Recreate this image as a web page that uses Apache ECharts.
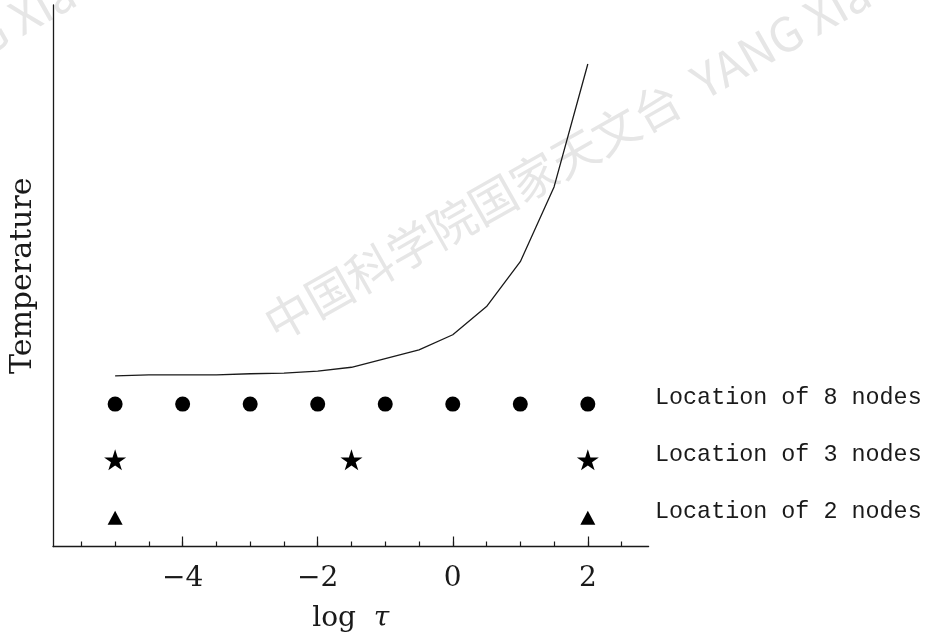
<!DOCTYPE html>
<html>
<head>
<meta charset="utf-8">
<script src="https://cdn.jsdelivr.net/npm/echarts@6/dist/echarts.min.js"></script>
<style>
  html, body { margin: 0; padding: 0; background: #fff; }
  #chart { width: 928px; height: 639px; }
</style>
</head>
<body>
<div id="chart"></div>
<script>
// ---- data ----
const logTau = [-5, -4.5, -4, -3.5, -3, -2.5, -2, -1.5, -1, -0.5, 0, 0.5, 1, 1.5, 2];
const temperature = [31.5, 31.7, 31.7, 31.7, 31.9, 32.0, 32.4, 33.1, 34.7, 36.3, 39.1, 44.3, 52.6, 66.4, 89.1];
const nodes8 = [-5, -4, -3, -2, -1, 0, 1, 2];
const nodes3 = [-5, -1.5, 2];
const nodes2 = [-5, 2];
const row8 = 26.3;
const row3 = 16.0;
const row2 = 5.3;
const majorTicks = [-4, -2, 0, 2];
const minorTicks = [-5.5, -5, -4.5, -4, -3.5, -3, -2.5, -2, -1.5, -1, -0.5, 0, 0.5, 1, 1.5, 2, 2.5];
const rowLabels = ['Location of 8 nodes', 'Location of 3 nodes', 'Location of 2 nodes'];
const watermarkText = '中国科学院国家天文台  YANG Xiao';

const STAR = 'path://M50,0 L61.23,34.55 L97.55,34.55 L68.17,55.9 L79.39,90.45 L50,69.1 L20.61,90.45 L31.83,55.9 L2.45,34.55 L38.77,34.55 Z';
const serif = 'DejaVu Serif';
const ink = '#1a1a1a';

const chart = echarts.init(document.getElementById('chart'), null, { renderer: 'canvas' });

const fmt = v => String(v).replace('-', '\u2212');
const wmRot = 29.5 * Math.PI / 180;
const wmStyle = { text: watermarkText, fill: '#e6e6e6', font: '47px "Noto Sans CJK SC"', align: 'left', verticalAlign: 'middle' };

const option = {
  animation: false,
  backgroundColor: '#fff',
  grid: { left: 51, right: 279.4, top: 5, bottom: 92.5, containLabel: false },
  xAxis: [
    {
      type: 'value', min: -5.92, max: 2.9, position: 'bottom',
      axisLine: { show: true, onZero: false, lineStyle: { color: ink, width: 1.3 } },
      axisTick: { show: true, inside: true, length: 5, customValues: minorTicks, lineStyle: { color: ink, width: 1.2 } },
      axisLabel: { show: true, customValues: majorTicks, formatter: fmt, margin: 18,
        fontFamily: serif, fontSize: 28, color: ink },
      splitLine: { show: false },
      name: '{a|log}  {b|τ}', nameLocation: 'middle', nameGap: 58,
      nameTextStyle: { fontFamily: serif, fontSize: 28, color: ink,
        rich: { a: { fontFamily: serif, fontSize: 28, color: ink },
                b: { fontFamily: serif, fontSize: 28, color: ink, fontStyle: 'italic' } } }
    },
    {
      type: 'value', min: -5.92, max: 2.9, position: 'bottom',
      axisLine: { show: false, onZero: false },
      axisTick: { show: true, inside: true, length: 10, customValues: majorTicks, lineStyle: { color: ink, width: 1.2 } },
      axisLabel: { show: false },
      splitLine: { show: false }
    }
  ],
  yAxis: {
    type: 'value', min: 0, max: 100,
    axisLine: { show: true, onZero: false, lineStyle: { color: ink, width: 1.3 } },
    axisTick: { show: false },
    axisLabel: { show: false },
    splitLine: { show: false },
    name: 'Temperature', nameLocation: 'middle', nameGap: 15, nameRotate: 90,
    nameTextStyle: { fontFamily: serif, fontSize: 30, color: ink }
  },
  graphic: {
    elements: [
      { type: 'text', z: -10, x: 268, y: 327, rotation: wmRot, style: wmStyle },
      { type: 'text', z: -10, x: 268 - 795, y: 327, rotation: wmRot, style: wmStyle },
      { type: 'text', x: 655, y: 398, style: { text: rowLabels[0], fill: ink, font: '23.4px "Liberation Mono"', align: 'left', verticalAlign: 'middle' } },
      { type: 'text', x: 655, y: 455, style: { text: rowLabels[1], fill: ink, font: '23.4px "Liberation Mono"', align: 'left', verticalAlign: 'middle' } },
      { type: 'text', x: 655, y: 512, style: { text: rowLabels[2], fill: ink, font: '23.4px "Liberation Mono"', align: 'left', verticalAlign: 'middle' } }
    ]
  },
  series: [
    {
      type: 'line', xAxisIndex: 0, symbol: 'none', smooth: false,
      lineStyle: { color: ink, width: 1.3 },
      data: logTau.map((x, i) => [x, temperature[i]])
    },
    {
      type: 'scatter', xAxisIndex: 0, symbol: 'circle', symbolSize: 15,
      itemStyle: { color: '#000', opacity: 1 },
      data: nodes8.map(x => [x, row8])
    },
    {
      type: 'scatter', xAxisIndex: 0, symbol: STAR, symbolSize: [22, 21],
      itemStyle: { color: '#000', opacity: 1 },
      data: nodes3.map(x => [x, row3])
    },
    {
      type: 'scatter', xAxisIndex: 0, symbol: 'triangle', symbolSize: [15, 14],
      itemStyle: { color: '#000', opacity: 1 },
      data: nodes2.map(x => [x, row2])
    }
  ]
};
chart.setOption(option);
</script>
</body>
</html>
